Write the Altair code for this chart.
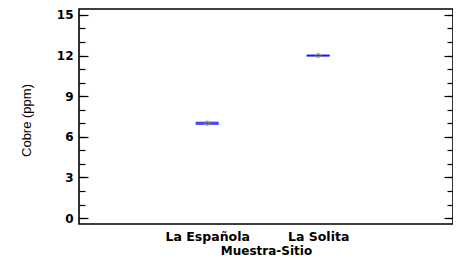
import altair as alt
import pandas as pd

sites = ["La Española", "La Solita"]
site_pos = [1, 2]
means = [7.0, 12.0]
lower = [6.945, 12.0]
upper = [7.055, 12.0]
major_ticks = [0, 3, 6, 9, 12, 15]
minor_ticks = list(range(0, 16))

df = pd.DataFrame({"site": sites, "pos": site_pos, "mean": means, "lo": lower, "hi": upper})

W, H = 374, 215
FONT = "DejaVu Sans"
TFONT = "Liberation Sans"
ydom = [-0.44, 15.44]
xdom = [-0.155, 3.215]

label_expr = "datum.value == 1 ? '" + sites[0] + "' : (datum.value == 2 ? '" + sites[1] + "' : '')"

xscale = alt.Scale(domain=xdom, nice=False, zero=False)
xenc = alt.X("pos:Q", scale=xscale,
             axis=alt.Axis(values=site_pos, labelExpr=label_expr, ticks=False, domain=False, grid=False,
                           title="Muestra-Sitio", labelFont=FONT, labelFontSize=12.5, labelFontWeight="bold",
                           labelColor="#000", titleFont=FONT, titleFontSize=12, titleFontWeight="bold",
                           titleColor="#000", labelPadding=6, titlePadding=3))

yscale = alt.Scale(domain=ydom, nice=False, zero=False)

def yax(**kw):
    base = dict(grid=False, domain=False, title=None)
    base.update(kw)
    return alt.Axis(**base)

base = alt.Chart(df)
xnone = alt.X("pos:Q", scale=xscale, axis=None)

lbl = base.mark_point(opacity=0).encode(
    x=xenc,
    y=alt.Y("mean:Q", scale=yscale,
            axis=yax(values=major_ticks, ticks=False, labelFont=FONT, labelFontSize=12,
                     labelFontWeight="bold", labelColor="#000", labelPadding=6,
                     title="Cobre (ppm)", titleFont=TFONT, titleFontSize=13, titleFontWeight="normal",
                     titleColor="#000", titlePadding=23, titleY=111)))

def tick_axis(orient, values, size):
    return base.mark_point(opacity=0).encode(
        x=xnone,
        y=alt.Y("mean:Q", scale=yscale,
                axis=yax(orient=orient, offset=-W, values=values, labels=False, tickSize=size,
                         tickColor="#000", tickWidth=1.2)))

lo_line = base.mark_tick(orient="horizontal", size=23, thickness=1.8, color="#0000ff").encode(
    x=xnone, y=alt.Y("lo:Q", scale=yscale, axis=None))
hi_line = base.mark_tick(orient="horizontal", size=23, thickness=1.8, color="#0000ff").encode(
    x=xnone, y=alt.Y("hi:Q", scale=yscale, axis=None))
pts = base.mark_point(shape="circle", size=18, color="#a8a020", strokeWidth=1.2, filled=False).encode(
    x=xnone, y=alt.Y("mean:Q", scale=yscale, axis=None))

chart = alt.layer(lbl,
                  tick_axis("right", major_ticks, 9), tick_axis("right", minor_ticks, 6),
                  tick_axis("left", major_ticks, 9), tick_axis("left", minor_ticks, 6),
                  lo_line, hi_line, pts).resolve_axis(y="independent", x="independent").properties(
    width=W, height=H,
    autosize=alt.AutoSizeParams(type="none"),
    padding={"left": 71, "top": 1, "right": 0, "bottom": 36},
    background="white",
).configure_view(stroke="#000", strokeWidth=1.6)

chart.save("out.html", embed_options={"renderer": "svg", "actions": False})
